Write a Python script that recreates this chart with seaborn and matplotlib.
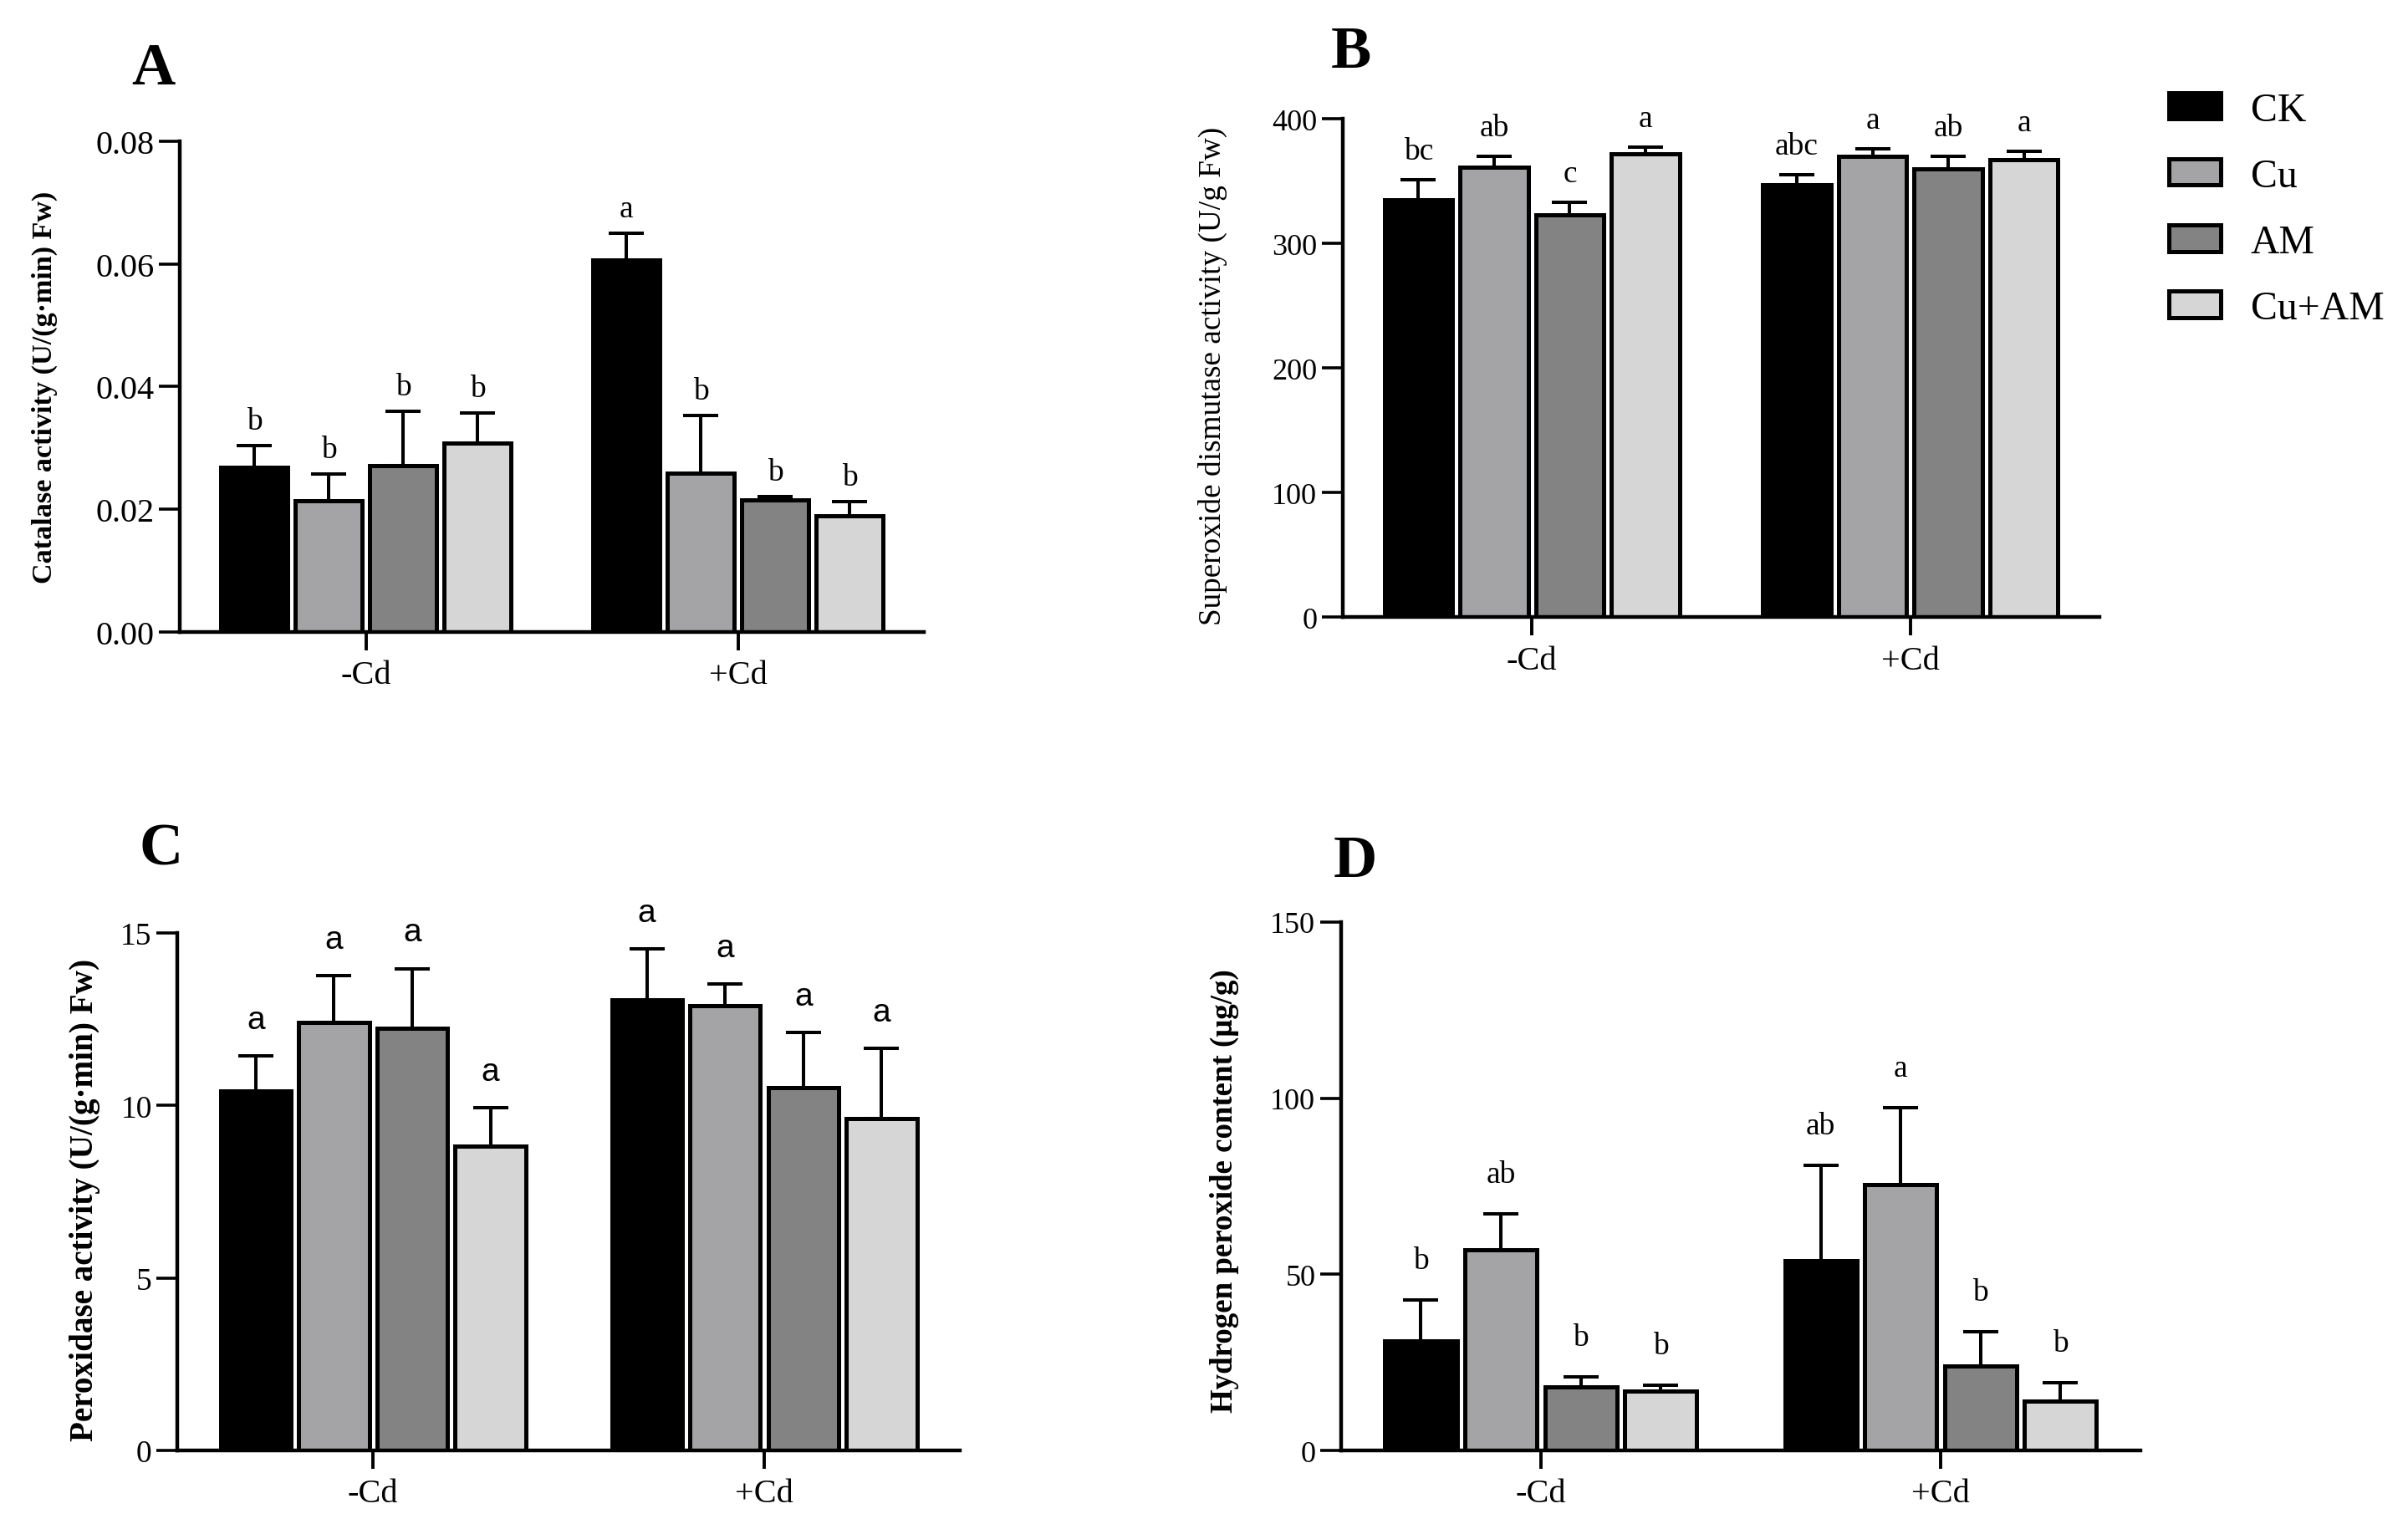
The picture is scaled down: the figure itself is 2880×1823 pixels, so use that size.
import numpy as np
import pandas as pd
import matplotlib
matplotlib.use("Agg")
import matplotlib.pyplot as plt
import seaborn as sns

# data
groups = ['-Cd', '+Cd']
treatments = ['CK', 'Cu', 'AM', 'Cu+AM']
colors = ['#000000', '#a3a3a8', '#838383', '#d6d6d6']

# order: -Cd (CK, Cu, AM, Cu+AM), +Cd (CK, Cu, AM, Cu+AM)
cat_mean = [0.0269, 0.0214, 0.0271, 0.0308, 0.0606, 0.0259, 0.0215, 0.0189]
cat_err = [0.0035, 0.0043, 0.0089, 0.0049, 0.0044, 0.0094, 0.0006, 0.0024]
cat_sig = ['b', 'b', 'b', 'b', 'a', 'b', 'b', 'b']

sod_mean = [335, 361, 323, 372, 347, 370, 360, 367]
sod_err = [16, 9, 10, 5, 8, 6, 10, 7]
sod_sig = ['bc', 'ab', 'c', 'a', 'abc', 'a', 'ab', 'a']

pod_mean = [10.42, 12.41, 12.23, 8.82, 13.07, 12.9, 10.51, 9.61]
pod_err = [1.02, 1.36, 1.74, 1.11, 1.48, 0.62, 1.6, 2.05]
pod_sig = ['a', 'a', 'a', 'a', 'a', 'a', 'a', 'a']

h2o2_mean = [31.2, 56.9, 18.1, 16.8, 53.8, 75.4, 24.0, 14.1]
h2o2_err = [11.6, 10.2, 2.7, 1.8, 27.1, 21.9, 9.8, 5.2]
h2o2_sig = ['b', 'ab', 'b', 'b', 'ab', 'a', 'b', 'b']

sns.set_style("ticks")
plt.rcParams['font.family'] = ['Liberation Serif', 'DejaVu Serif']
plt.rcParams['mathtext.fontset'] = 'stix'
for key in ['text.color', 'axes.labelcolor', 'xtick.color', 'ytick.color', 'axes.edgecolor']:
    plt.rcParams[key] = 'black'

fig = plt.figure(figsize=(14.4, 9.12), dpi=200)

serif = ['Liberation Serif', 'DejaVu Serif']
sans = ['Liberation Sans', 'DejaVu Sans']

panels = [
    dict(lab='A', rect=[0.0747, 0.585, 0.309, 0.3219], lpos=(0.0545, 0.954),
         mean=cat_mean, err=cat_err, sig=cat_sig, ymax=0.08,
         ticks=[0, 0.02, 0.04, 0.06, 0.08], fmt='{:.2f}', tsize=14.5,
         ylabel='Catalase activity (U/(g·min) Fw)', ysize=12.3, yweight='bold',
         ycoords=(-0.164, 0.5), lfam=serif, lsize=13.5, loff=7.2),
    dict(lab='B', rect=[0.5576, 0.5946, 0.3143, 0.327], lpos=(0.5528, 0.965),
         mean=sod_mean, err=sod_err, sig=sod_sig, ymax=400,
         ticks=[0, 100, 200, 300, 400], fmt='{:.0f}', tsize=13,
         ylabel='Superoxide dismutase activity (U/g Fw)', ysize=13.4, yweight='normal',
         ycoords=(-0.152, 0.485), lfam=serif, lsize=13.5, loff=9),
    dict(lab='C', rect=[0.0737, 0.0482, 0.3249, 0.3394], lpos=(0.0577, 0.4425),
         mean=pod_mean, err=pod_err, sig=pod_sig, ymax=15,
         ticks=[0, 5, 10, 15], fmt='{:.0f}', tsize=13.5,
         ylabel='Peroxidase activity (U/(g·min) Fw)', ysize=14.1, yweight='bold',
         ycoords=(-0.0985, 0.486), lfam=sans, lsize=14, loff=11.9),
    dict(lab='D', rect=[0.5569, 0.0482, 0.332, 0.3466], lpos=(0.5538, 0.4347),
         mean=h2o2_mean, err=h2o2_err, sig=h2o2_sig, ymax=150,
         ticks=[0, 50, 100, 150], fmt='{:.0f}', tsize=13,
         ylabel='Hydrogen peroxide content (μg/g)', ysize=13.3, yweight='bold',
         ycoords=(-0.127, 0.492), lfam=serif, lsize=13.5, loff=13.7),
]

for p in panels:
    ax = fig.add_axes(p['rect'])
    df = pd.DataFrame({
        'group': np.repeat(groups, len(treatments)),
        'treatment': treatments * len(groups),
        'value': p['mean'],
    })
    sns.barplot(data=df, x='group', y='value', hue='treatment', order=groups,
                hue_order=treatments, palette=colors, edgecolor='black',
                linewidth=1.8, errorbar=None, width=0.8, gap=0.1, ax=ax,
                legend=(p['lab'] == 'B'))

    # one-sided error bars and significance letters
    bar_sets = list(ax.containers)
    for i, cont in enumerate(bar_sets):
        for j, bar in enumerate(cont.patches):
            k = j * len(treatments) + i
            x = bar.get_x() + bar.get_width() / 2
            y = bar.get_height()
            e = p['err'][k]
            ax.errorbar(x, y, yerr=[[0], [e]], fmt='none', ecolor='black',
                        elinewidth=1.45, capsize=7.5, capthick=1.45, zorder=0.5)
            ax.annotate(p['sig'][k], (x, y + e), xytext=(0, p['loff']),
                        textcoords='offset points', ha='center', va='baseline',
                        fontsize=p['lsize'], family=p['lfam'])

    ax.set_xlim(-0.5, 1.5)
    ax.set_ylim(0, p['ymax'])
    ax.set_yticks(p['ticks'])
    ax.set_yticklabels([p['fmt'].format(t) for t in p['ticks']])
    ax.set_xlabel('')
    ax.set_ylabel(p['ylabel'], fontsize=p['ysize'], fontweight=p['yweight'])
    ax.yaxis.set_label_coords(*p['ycoords'])
    ax.tick_params(axis='y', length=9, width=1.3, labelsize=p['tsize'], pad=2)
    ax.tick_params(axis='x', length=8, width=1.4, labelsize=14.5, pad=4)
    for s in ['left', 'bottom']:
        ax.spines[s].set_linewidth(1.6)
    sns.despine(ax=ax)

    fig.text(p['lpos'][0], p['lpos'][1], p['lab'], fontsize=26, fontweight='bold',
             ha='left', va='center')

    if p['lab'] == 'B':
        handles, labels = ax.get_legend_handles_labels()
        ax.get_legend().remove()
        fig.legend(handles, labels, loc='upper left', bbox_to_anchor=(0.9007, 0.9394),
                   frameon=False, fontsize=17.2, handlelength=1.3, handleheight=0.63,
                   labelspacing=0.735, handletextpad=0.75, borderpad=0, borderaxespad=0)

fig.savefig('out.png', dpi=200)
